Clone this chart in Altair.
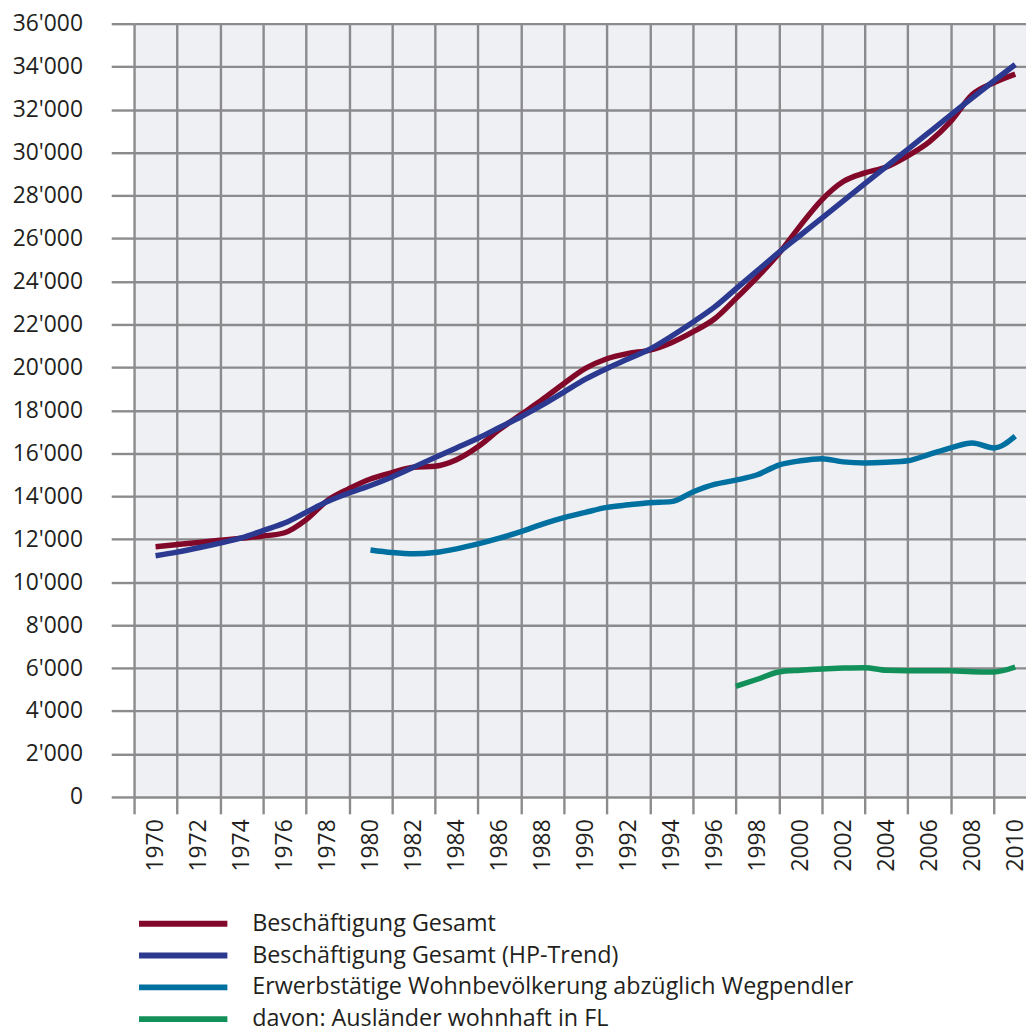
import altair as alt
import pandas as pd

FONT = "Open Sans"
TEXT = "#231f20"
GRID = "#8b8b8d"
BG = "#eff0f3"

SERIES = [
    "Beschäftigung Gesamt",
    "Beschäftigung Gesamt (HP-Trend)",
    "Erwerbstätige Wohnbevölkerung abzüglich Wegpendler",
    "davon: Ausländer wohnhaft in FL",
]
COLORS = ["#82082a", "#2b3990", "#0070a0", "#12905a"]

YEARS_TOTAL = list(range(1970, 2011))
BESCH = [11650, 11750, 11850, 11950, 12050, 12150, 12300, 12900, 13800, 14350,
         14800, 15100, 15350, 15400, 15700, 16300, 17100, 17800, 18500, 19250,
         19950, 20400, 20650, 20800, 21150, 21650, 22250, 23200, 24200, 25300,
         26600, 27800, 28650, 29050, 29330, 29850, 30500, 31450, 32700, 33250,
         33650]
HP_TREND = [11230, 11400, 11600, 11820, 12060, 12400, 12750, 13250, 13750, 14150,
            14500, 14900, 15350, 15800, 16250, 16700, 17200, 17700, 18250, 18850,
            19450, 19950, 20400, 20850, 21450, 22100, 22800, 23650, 24500, 25350,
            26150, 26950, 27750, 28550, 29350, 30150, 30950, 31750, 32550, 33330,
            34100]

YEARS_ERW = list(range(1980, 2011))
ERW = [11500, 11380, 11320, 11380, 11550, 11780, 12050, 12350, 12700, 13000,
       13250, 13480, 13600, 13700, 13750, 14200, 14550, 14750, 15000, 15450,
       15650, 15750, 15600, 15550, 15580, 15650, 15950, 16250, 16480, 16250,
       16800]

YEARS_AUS = list(range(1997, 2011))
AUS = [5150, 5480, 5820, 5900, 5960, 6000, 6020, 5900, 5880, 5880, 5880, 5830,
       5820, 6050]

Y_TICKS = list(range(0, 36001, 2000))
X_TICKS = list(range(1969, 2011))

rows = []
for name, years, vals in [
    (SERIES[0], YEARS_TOTAL, BESCH),
    (SERIES[1], YEARS_TOTAL, HP_TREND),
    (SERIES[2], YEARS_ERW, ERW),
    (SERIES[3], YEARS_AUS, AUS),
]:
    for yr, v in zip(years, vals):
        rows.append({"Jahr": yr, "Wert": v, "Serie": name})
df = pd.DataFrame(rows)

x_axis = alt.Axis(
    values=X_TICKS,
    grid=True,
    gridColor=GRID,
    gridWidth=2.4,
    gridOpacity={"condition": {"test": "datum.value % 2 == 1", "value": 1}, "value": 0},
    ticks=True,
    tickSize=17,
    tickColor=GRID,
    tickWidth=2.4,
    tickOpacity={"condition": {"test": "datum.value % 2 == 1", "value": 1}, "value": 0},
    labelExpr="datum.value % 2 == 0 ? '' + datum.value : ''",
    labelAngle=270,
    labelAlign="right",
    labelBaseline="middle",
    labelFont=FONT,
    labelFontSize=23,
    labelColor=TEXT,
    labelPadding=5,
    labelFlush=False,
    labelOverlap=False,
    domain=False,
    title=None,
)

y_axis = alt.Axis(
    values=Y_TICKS,
    grid=True,
    gridColor=GRID,
    gridWidth=2.4,
    ticks=True,
    tickSize=23,
    tickColor=GRID,
    tickWidth=2.4,
    labelExpr="datum.value >= 1000 ? floor(datum.value / 1000) + \"'000\" : '' + datum.value",
    labelFont=FONT,
    labelFontSize=23,
    labelColor=TEXT,
    labelPadding=29,
    domain=False,
    title=None,
)

legend = alt.Legend(
    orient="none",
    legendX=2,
    legendY=891,
    direction="vertical",
    title=None,
    symbolType="stroke",
    symbolSize=7921,
    symbolStrokeWidth=6,
    labelFont=FONT,
    labelFontSize=23.5,
    labelColor=TEXT,
    labelOffset=22,
    labelLimit=1000,
    padding=0,
    rowPadding=0,
    clipHeight=31.6,
)

chart = (
    alt.Chart(df)
    .mark_line(strokeWidth=5.5, interpolate="monotone", strokeCap="butt")
    .encode(
        x=alt.X("Jahr:Q", scale=alt.Scale(domain=[1969, 2010.5], nice=False, zero=False), axis=x_axis),
        y=alt.Y("Wert:Q", scale=alt.Scale(domain=[0, 36000], nice=False), axis=y_axis),
        color=alt.Color("Serie:N", scale=alt.Scale(domain=SERIES, range=COLORS), sort=SERIES, legend=legend),
        detail="Serie:N",
    )
    .properties(
        width=898.5,
        height=779,
        autosize=alt.AutoSizeParams(type="none"),
        padding={"left": 127, "top": 12, "right": 0, "bottom": 235},
        background="white",
    )
    .configure_view(fill=BG, stroke=None)
)

chart.save("out.html", embed_options={"renderer": "svg", "actions": False})
